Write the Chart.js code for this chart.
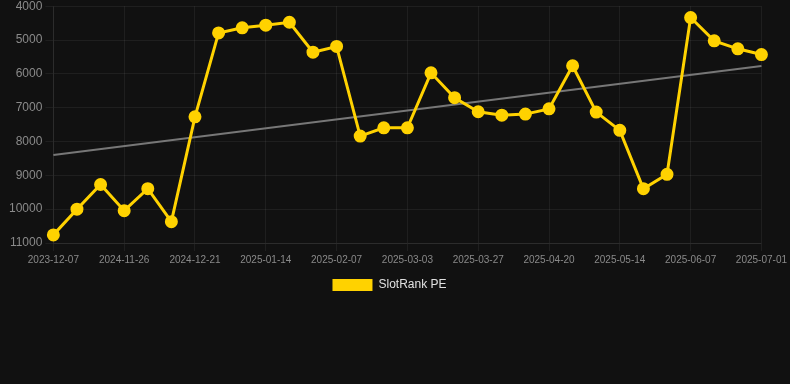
<!DOCTYPE html>
<html>
<head>
<meta charset="utf-8">
<script src="https://cdn.jsdelivr.net/npm/chart.js@4/dist/chart.umd.min.js"></script>
<style>
  html, body { margin: 0; padding: 0; background: #111111; overflow: hidden; }
  #wrap { width: 790px; height: 305px; position: relative; margin-top: -4px; }
</style>
</head>
<body>
<div id="wrap"><canvas id="c"></canvas></div>
<script>
const categories = [
  "2023-12-07", "2024-11-10", "2024-11-18", "2024-11-26", "2024-12-04", "2024-12-13",
  "2024-12-21", "2024-12-29", "2025-01-06", "2025-01-14", "2025-01-22", "2025-01-30",
  "2025-02-07", "2025-02-15", "2025-02-23", "2025-03-03", "2025-03-11", "2025-03-19",
  "2025-03-27", "2025-04-04", "2025-04-12", "2025-04-20", "2025-04-28", "2025-05-06",
  "2025-05-14", "2025-05-22", "2025-05-30", "2025-06-07", "2025-06-15", "2025-06-23",
  "2025-07-01"
];
const slotRankPE = [
  10760, 10000, 9270, 10045, 9395, 10370,
  7270, 4790, 4640, 4560, 4475, 5360,
  5190, 7840, 7595, 7595, 5970, 6705,
  7120, 7220, 7190, 7035, 5760, 7130,
  7670, 9395, 8970, 4335, 5025, 5260,
  5430
];
const trendStart = 8400;
const trendEnd = 5765;
const yTicks = [4000, 5000, 6000, 7000, 8000, 9000, 10000, 11000];

const trend = categories.map((_, i) => i === 0 ? trendStart : (i === categories.length - 1 ? trendEnd : null));

new Chart(document.getElementById('c'), {
  type: 'line',
  data: {
    labels: categories,
    datasets: [
      {
        label: 'SlotRank PE',
        data: slotRankPE,
        borderColor: '#FFD200',
        backgroundColor: '#FFD200',
        borderWidth: 3,
        pointRadius: 5,
        pointBackgroundColor: '#FFD200',
        pointBorderColor: '#FFD200',
        tension: 0,
        order: 1
      },
      {
        label: 'Trend',
        data: trend,
        spanGaps: true,
        borderColor: '#777777',
        borderWidth: 2,
        pointRadius: 0,
        tension: 0,
        order: 2
      }
    ]
  },
  options: {
    responsive: true,
    maintainAspectRatio: false,
    animation: false,
    layout: { padding: { top: 0, right: 17, left: 6, bottom: 0 } },
    plugins: {
      legend: {
        position: 'bottom',
        labels: {
          color: '#e0e0e0',
          font: { family: 'Liberation Sans, Arial, sans-serif', size: 12 },
          boxWidth: 40,
          boxHeight: 12,
          generateLabels: (chart) => {
            const items = Chart.defaults.plugins.legend.labels.generateLabels(chart);
            return items.filter(it => it.text !== 'Trend').map(it => Object.assign(it, { lineWidth: 0 }));
          }
        }
      },
      tooltip: { enabled: true }
    },
    scales: {
      x: {
        grid: {
          color: (ctx) => (ctx.index % 3 === 0 ? 'rgba(255,255,255,0.06)' : 'rgba(0,0,0,0)'),
          tickColor: (ctx) => (ctx.index % 3 === 0 ? 'rgba(255,255,255,0.06)' : 'rgba(0,0,0,0)')
        },
        border: { color: 'rgba(255,255,255,0.06)' },
        ticks: {
          autoSkip: false,
          maxRotation: 0,
          color: '#8a8a8a',
          font: { family: 'Liberation Sans, Arial, sans-serif', size: 10 },
          callback: function (v, i) { return i % 3 === 0 ? categories[i] : ''; }
        }
      },
      y: {
        reverse: true,
        min: yTicks[0],
        max: yTicks[yTicks.length - 1],
        afterBuildTicks: (axis) => { axis.ticks = yTicks.map(v => ({ value: v })); },
        grid: { color: 'rgba(255,255,255,0.06)' },
        border: { color: 'rgba(255,255,255,0.06)' },
        ticks: {
          color: '#8a8a8a',
          font: { family: 'Liberation Sans, Arial, sans-serif', size: 12 },
          callback: (v) => String(v)
        }
      }
    }
  }
});
</script>
</body>
</html>
